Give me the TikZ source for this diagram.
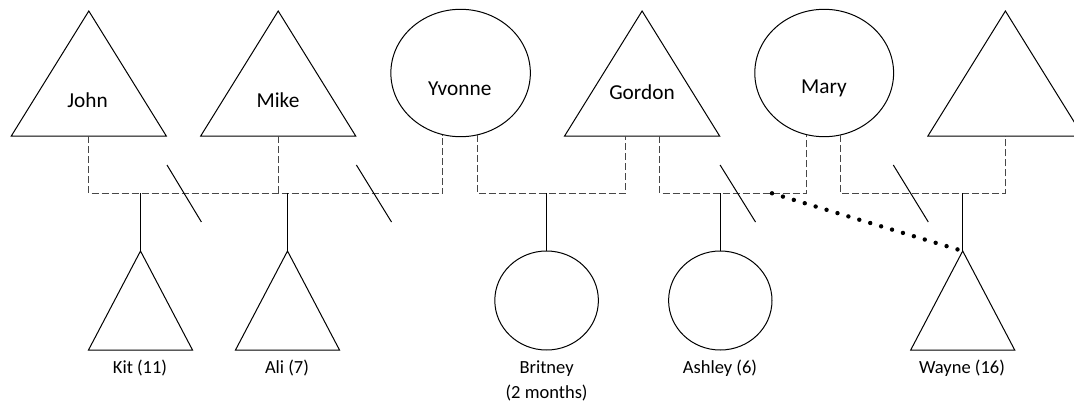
\documentclass[tikz,border=0pt]{standalone}
\usepackage{fontspec}
\setmainfont{Carlito}
\usetikzlibrary{shapes.geometric}

\tikzset{
  person/.style={draw=black, line width=1pt, line join=miter},
  female/.style={person, ellipse, inner sep=0pt, outer sep=0pt},
  union/.style={draw=black!72, line width=1pt, dash pattern=on 7pt off 3pt},
  descent/.style={draw=black, line width=1pt},
  divorce/.style={draw=black, line width=1pt},
  fosterdots/.style={draw=black, line width=4.4pt, line cap=round, dash pattern=on 0pt off 11.4pt},
  personname/.style={font=\fontsize{21.3}{25}\selectfont, anchor=base, inner sep=0pt},
  agelabel/.style={font=\fontsize{18.5}{22}\selectfont, anchor=base, inner sep=0pt},
  pics/adult/.style={code={
    \draw[person] (0,0) coordinate (-apex) -- (77.5,125) -- (-77.5,125) -- cycle;
    \coordinate (-base) at (0,125);
    \coordinate (-bl) at (-16.7,125);
    \coordinate (-br) at (17.7,125);
  }},
  pics/child/.style={code={
    \draw[person] (0,0) coordinate (-apex) -- (52,99) -- (-52,99) -- cycle;
  }},
}

\begin{document}
\begin{tikzpicture}[x=1pt, y=-1pt]
  \clip (0,0) rectangle (1074,404);

  % parents' generation
  \pic (john)   at (88.8,11)   {adult};
  \pic (mike)   at (278.2,11)  {adult};
  \pic (gordon) at (642.1,11)  {adult};
  \pic (mr)     at (1005.4,11) {adult};
  \node[female, minimum width=139.5pt, minimum height=127.4pt] (yvonne) at (460.6,73) {};
  \node[female, minimum width=138.8pt, minimum height=127.4pt] (mary)   at (824.2,73) {};

  \node[personname] (johnname)   at (87.5,107.3) {John};
  \node[personname] (mikename)   at (278,107.3)  {Mike};
  \node[personname] (yvonnename) at (459.7,95.5) {Yvonne};
  \node[personname] (gordonname) at (642,99.3)   {Gordon};
  \node[personname] (maryname)   at (824,94)     {Mary};

  % level of the partnership lines
  \coordinate (bar) at (0,193.3);

  % partnerships (dashed)
  \draw[union] (john-base) -- (john-base |- bar) -| (yvonne.254.4);
  \draw[union] (mike-base) -- (mike-base |- bar);
  \draw[union] (yvonne.285.5) -- (yvonne.285.5 |- bar) -| (gordon-bl);
  \draw[union] (gordon-br) -- (gordon-br |- bar) -| (mary.254.4);
  \draw[union] (mary.285.5) -- (mary.285.5 |- bar) -| (mr-base);

  % separation marks
  \draw[divorce] (167,165)   -- (201.4,222);
  \draw[divorce] (356.4,165) -- (391.5,222);
  \draw[divorce] (720.1,165) -- (755.5,222);
  \draw[divorce] (893.3,165) -- (928.3,222);

  % children
  \pic (kit)   at (140.5,251) {child};
  \pic (ali)   at (287.5,251) {child};
  \pic (wayne) at (962.7,251) {child};
  \node[female, minimum width=103.6pt, minimum height=99pt] (britney) at (546.6,300.5) {};
  \node[female, minimum width=103.4pt, minimum height=99pt] (ashley)  at (720.3,300.5) {};

  \draw[descent] (kit-apex |- bar)   -- (kit-apex);
  \draw[descent] (ali-apex |- bar)   -- (ali-apex);
  \draw[descent] (wayne-apex |- bar) -- (wayne-apex);
  \draw[descent] (britney.north |- bar) -- (britney.north);
  \draw[descent] (ashley.north |- bar)  -- (ashley.north);

  % dotted link to Wayne
  \coordinate (fosterstart) at (772,193.3);
  \draw[fosterdots] (fosterstart) -- (wayne-apex);

  % ages
  \node[agelabel] (kitlabel)     at (140,373)   {Kit (11)};
  \node[agelabel] (alilabel)     at (287,373)   {Ali (7)};
  \node[agelabel] (britneylabel) at (546.6,373) {Britney};
  \node[agelabel] (britneyage)   at (546.6,398.5) {(2 months)};
  \node[agelabel] (ashleylabel)  at (720,373)   {Ashley (6)};
  \node[agelabel] (waynelabel)   at (962,373)   {Wayne (16)};
\end{tikzpicture}
\end{document}
